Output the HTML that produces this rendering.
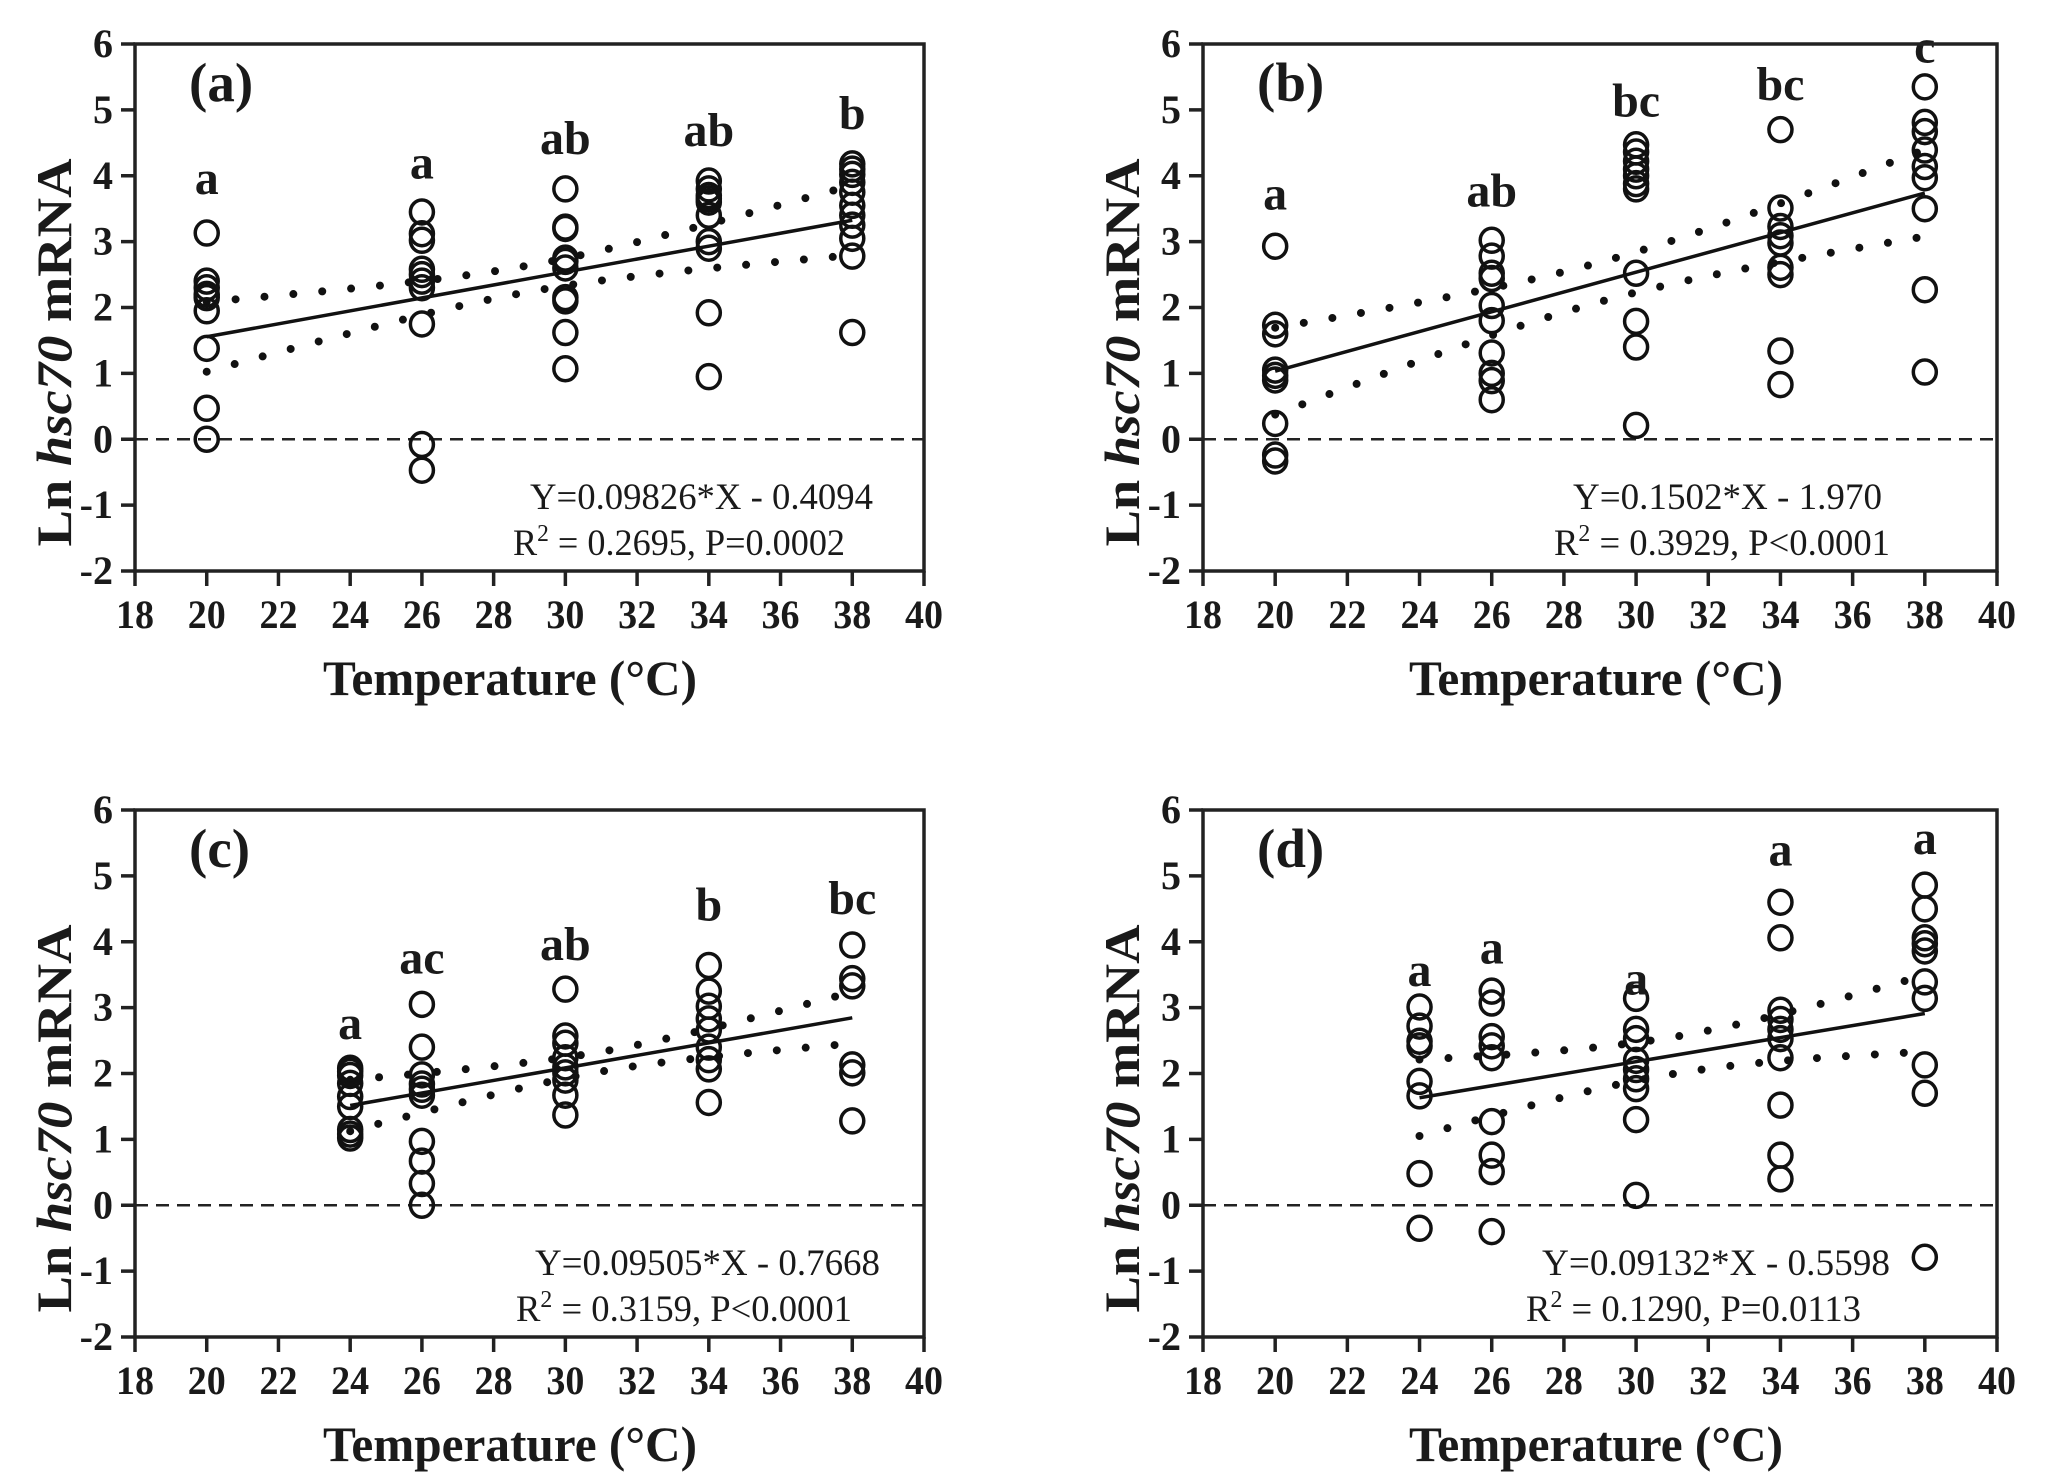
<!DOCTYPE html>
<html><head><meta charset="utf-8"><style>
html,body{margin:0;padding:0;background:#fff;}
svg{display:block;}
text{font-family:"Liberation Serif",serif;fill:#1a1a1a;}
</style></head>
<body>
<svg id="fig" width="2066" height="1483" viewBox="0 0 2066 1483" xmlns="http://www.w3.org/2000/svg"></svg>
<script>
// ---- data ----
const xTicks = [18,20,22,24,26,28,30,32,34,36,38,40];
const yTicks = [-2,-1,0,1,2,3,4,5,6];

const aTemps = [20,26,30,34,38];
const aValues = [
  [3.13,2.4,2.3,2.2,2.15,1.95,1.38,0.47,0.0],
  [3.45,3.12,3.02,2.58,2.5,2.4,2.3,1.75,-0.08,-0.47],
  [3.8,3.22,3.2,2.75,2.7,2.6,2.15,2.1,1.62,1.07],
  [3.92,3.8,3.7,3.65,3.6,3.4,3.0,2.9,1.92,0.95],
  [4.18,4.1,4.02,3.9,3.75,3.55,3.4,3.25,3.05,2.78,1.62]
];
const aLetters = ["a","a","ab","ab","b"];
const aLetterY = [3.72,3.96,4.33,4.45,4.71];
const aFit = [0.09826,-0.4094];
const aBand = [0.2,0.53];
const aEq = ["Y=0.09826*X - 0.4094","0.2695, P=0.0002"];

const bTemps = [20,26,30,34,38];
const bValues = [
  [2.93,1.73,1.6,1.05,0.97,0.9,0.24,-0.24,-0.33],
  [3.02,2.78,2.52,2.44,2.03,1.8,1.31,1.0,0.89,0.6],
  [4.47,4.36,4.22,4.1,4.0,3.88,3.8,2.52,1.79,1.4,0.21],
  [4.7,3.51,3.23,3.09,2.98,2.61,2.5,1.34,0.83],
  [5.35,4.81,4.67,4.39,4.14,3.97,3.5,2.27,1.02]
];
const bLetters = ["a","ab","bc","bc","c"];
const bLetterY = [3.49,3.53,4.9,5.15,5.72];
const bFit = [0.1502,-1.970];
const bBand = [0.3,0.66];
const bEq = ["Y=0.1502*X - 1.970","0.3929, P<0.0001"];

const cTemps = [24,26,30,34,38];
const cValues = [
  [2.08,2.03,1.97,1.85,1.65,1.5,1.15,1.08,1.02],
  [3.05,2.4,1.98,1.84,1.76,1.67,0.97,0.67,0.33,0.0],
  [3.28,2.57,2.46,2.24,2.1,2.01,1.9,1.67,1.37],
  [3.64,3.25,3.02,2.83,2.66,2.4,2.21,2.07,1.56],
  [3.95,3.44,3.33,2.13,2.01,1.28]
];
const cLetters = ["a","ac","ab","b","bc"];
const cLetterY = [2.52,3.52,3.72,4.32,4.42];
const cFit = [0.09505,-0.7668];
const cBand = [0.15,0.39];
const cEq = ["Y=0.09505*X - 0.7668","0.3159, P<0.0001"];

const dTemps = [24,26,30,34,38];
const dValues = [
  [3.01,2.72,2.49,2.42,1.88,1.66,0.48,-0.35],
  [3.25,3.07,2.56,2.42,2.24,1.27,0.76,0.51,-0.4],
  [3.14,2.67,2.53,2.2,2.06,1.92,1.77,1.3,0.15],
  [4.6,4.06,2.96,2.82,2.67,2.53,2.24,1.52,0.76,0.4],
  [4.86,4.5,4.06,3.97,3.86,3.39,3.14,2.13,1.7,-0.79]
];
const dLetters = ["a","a","a","a","a"];
const dLetterY = [3.33,3.67,3.2,5.16,5.33];
const dFit = [0.09132,-0.5598];
const dBand = [0.28,0.58];
const dEq = ["Y=0.09132*X - 0.5598","0.1290, P=0.0113"];

// ---- layout ----
const NS = "http://www.w3.org/2000/svg";
const svg = document.getElementById('fig');
function mk(tag, attrs, parent){
  const e = document.createElementNS(NS, tag);
  for (const k in attrs) e.setAttribute(k, attrs[k]);
  (parent||svg).appendChild(e);
  return e;
}

const panels = [
  {id:'a', L:135, R:924, T:44, B:571, temps:aTemps, vals:aValues, letters:aLetters, ly:aLetterY, fit:aFit, band:aBand, eq:aEq,
   eq1:[530,873], eq2:[513,845], tx:510},
  {id:'b', L:1203, R:1997, T:44, B:571, temps:bTemps, vals:bValues, letters:bLetters, ly:bLetterY, fit:bFit, band:bBand, eq:bEq,
   eq1:[1573,1882], eq2:[1554,1890], tx:1596},
  {id:'c', L:135, R:924, T:810, B:1337, temps:cTemps, vals:cValues, letters:cLetters, ly:cLetterY, fit:cFit, band:cBand, eq:cEq,
   eq1:[535,880], eq2:[516,852], tx:510},
  {id:'d', L:1203, R:1997, T:810, B:1337, temps:dTemps, vals:dValues, letters:dLetters, ly:dLetterY, fit:dFit, band:dBand, eq:dEq,
   eq1:[1542,1890], eq2:[1526,1861], tx:1596}
];

panels.forEach(p => {
  const g = mk('g', {});
  
  
  const sx = v => p.L + (v - 18) / 22 * (p.R - p.L);
  const sy = v => p.B - (v + 2) / 8 * (p.B - p.T);

  const z = mk('line', {x1:p.L, x2:p.R, y1:sy(0), y2:sy(0), stroke:'#222', 'stroke-width':2.5, 'stroke-dasharray':'13 8'}, g);
  
  

  const x0 = p.temps[0], x1 = p.temps[p.temps.length-1];
  const xc = (x0 + x1) / 2, hs = (x1 - x0) / 2;
  const h = x => Math.sqrt(p.band[0]*p.band[0] + (p.band[1]*p.band[1]-p.band[0]*p.band[0]) * Math.pow((x-xc)/hs,2));
  const fy = x => p.fit[0]*x + p.fit[1];
  [1,-1].forEach(sgn => {
    let d = '';
    for (let i=0;i<=60;i++){
      const x = x0 + (x1-x0)*i/60;
      d += (i?'L':'M') + sx(x).toFixed(1) + ',' + sy(fy(x)+sgn*h(x)).toFixed(1);
    }
    const c = mk('path', {d:d, fill:'none', stroke:'#111', 'stroke-width':8, 'stroke-linecap':'round', 'stroke-dasharray':'0 29'}, g);
    
    
  });

  const fl = mk('line', {x1:sx(x0), y1:sy(fy(x0)), x2:sx(x1), y2:sy(fy(x1)), stroke:'#111', 'stroke-width':3.5}, g);
  
  

  p.temps.forEach((t, i) => {
    p.vals[i].forEach(v => {
      const c = mk('ellipse', {cx:sx(t), cy:sy(v), rx:11.5, ry:12, fill:'none', stroke:'#111', 'stroke-width':3.5}, g);
      
      
    });
    const lt = mk('text', {x:sx(t), y:sy(p.ly[i]), 'font-size':48, 'font-weight':'bold', 'text-anchor':'middle'}, g);
    lt.textContent = p.letters[i];
    
    
  });

  const fr = mk('rect', {x:p.L, y:p.T, width:p.R-p.L, height:p.B-p.T, fill:'none', stroke:'#222', 'stroke-width':3.5}, g);
  
  

  yTicks.forEach(v => {
    mk('line', {x1:p.L-14, x2:p.L, y1:sy(v), y2:sy(v), stroke:'#222', 'stroke-width':3.5}, g);
    const t = mk('text', {x:p.L-22, y:sy(v)+13, 'font-size':40, 'font-weight':'bold', 'text-anchor':'end'}, g);
    t.textContent = v;
    
    
  });
  xTicks.forEach(v => {
    mk('line', {x1:sx(v), x2:sx(v), y1:p.B, y2:p.B+15, stroke:'#222', 'stroke-width':3.5}, g);
    const t = mk('text', {x:sx(v), y:p.B+57, 'font-size':40, 'font-weight':'bold', 'text-anchor':'middle', textLength:38, lengthAdjust:'spacingAndGlyphs'}, g);
    t.textContent = v;
    
    
  });

  const xt = mk('text', {x:p.tx, y:p.B+124, 'font-size':50, 'font-weight':'bold', 'text-anchor':'middle', textLength:374, lengthAdjust:'spacingAndGlyphs'}, g);
  xt.textContent = 'Temperature (°C)';
  
  

  const cy = (p.T + p.B) / 2 + 45;
  const yx = p.L - 64;
  const yt = mk('text', {x:0, y:0, 'font-size':50, 'font-weight':'bold', 'text-anchor':'middle', transform:'translate(' + yx + ',' + cy + ') rotate(-90)', textLength:388, lengthAdjust:'spacingAndGlyphs'}, g);
  yt.innerHTML = 'Ln <tspan font-style="italic">hsc70</tspan> mRNA';
  
  

  const pl = mk('text', {x:p.L+54, y:p.T+57, 'font-size':55, 'font-weight':'bold'}, g);
  pl.textContent = '(' + p.id + ')';
  
  

  const e1 = mk('text', {x:p.eq1[0], y:p.B-62, 'font-size':37, textLength:p.eq1[1]-p.eq1[0], lengthAdjust:'spacingAndGlyphs'}, g);
  e1.textContent = p.eq[0];
  
  
  const e2 = mk('text', {x:p.eq2[0], y:p.B-16, 'font-size':37, textLength:p.eq2[1]-p.eq2[0], lengthAdjust:'spacingAndGlyphs'}, g);
  e2.innerHTML = 'R<tspan font-size="24" dy="-14">2</tspan><tspan dy="14"> = ' + p.eq[1] + '</tspan>';
  
  
});
</script>
</body></html>
